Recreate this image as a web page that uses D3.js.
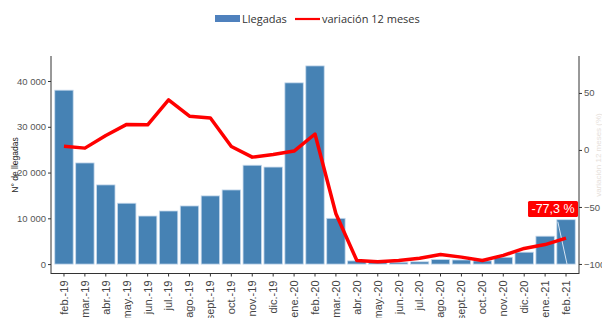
<!DOCTYPE html>
<html>
<head>
<meta charset="utf-8">
<script src="https://cdn.jsdelivr.net/npm/d3@7"></script>
<style>
  body { margin: 0; background: #fff; }
  text { font-family: "Liberation Sans", Arial, sans-serif; }
</style>
</head>
<body>
<div id="container"></div>
<script>
const months = ["feb.-19","mar.-19","abr.-19","may.-19","jun.-19","jul.-19","ago.-19","sept.-19","oct.-19","nov.-19","dic.-19","ene.-20","feb.-20","mar.-20","abr.-20","may.-20","jun.-20","jul.-20","ago.-20","sept.-20","oct.-20","nov.-20","dic.-20","ene.-21","feb.-21"];
const llegadas = [38000,22100,17300,13300,10500,11600,12700,14900,16200,21600,21200,39600,43300,10000,700,400,400,500,1000,900,700,1500,2600,6100,9700];
const variacion = [3.3,1.6,12.7,22.4,22,44,29.6,28,3,-6.3,-4,-1,14,-56,-97,-98,-97,-95,-91.7,-94,-97,-92.5,-86.4,-83,-77.3];
const leftTicks = [0,10000,20000,30000,40000];
const rightTicks = [-100,-50,0,50];

const W = 602, H = 318;
const svg = d3.select("#container").append("svg")
  .attr("width", W).attr("height", H);

const pLeft = 51, pRight = 579, pTop = 56, pBottom = 274;

const x = d3.scaleBand().domain(months).range([pLeft, pRight])
  .paddingInner(0.12).paddingOuter(0.18);
const y = d3.scaleLinear().domain([-2165, 45465]).range([pBottom, pTop]);
const y2 = d3.scaleLinear().domain([-108.8, 82.4]).range([pBottom, pTop]);

// bars
svg.append("g").selectAll("rect")
  .data(months)
  .join("rect")
  .attr("x", d => x(d))
  .attr("width", x.bandwidth())
  .attr("y", (d, i) => y(llegadas[i]))
  .attr("height", (d, i) => y(0) - y(llegadas[i]))
  .attr("fill", "#4682b4")
  .attr("stroke", "#c6d9ec")
  .attr("stroke-width", 0.8);

// leader segment in last bar
const last = months.length - 1;
svg.append("line")
  .attr("x1", x(months[last]) + 1).attr("y1", y(llegadas[last]) + 2)
  .attr("x2", x(months[last]) + x.bandwidth() / 2 + 1).attr("y2", y(0))
  .attr("stroke", "#d6e4f2").attr("stroke-width", 1);

// line
const line = d3.line()
  .x((d, i) => x(months[i]) + x.bandwidth() / 2)
  .y(d => y2(d));
svg.append("path")
  .datum(variacion)
  .attr("d", line)
  .attr("fill", "none")
  .attr("stroke", "#ff0000")
  .attr("stroke-width", 3.5)
  .attr("stroke-linejoin", "round");

// axes
const fmt = d => d3.format(",")(d).replace(/,/g, " ");
const gL = svg.append("g").attr("transform", `translate(${pLeft},0)`)
  .call(d3.axisLeft(y).tickValues(leftTicks).tickFormat(fmt).tickSize(3).tickPadding(2));
const gR = svg.append("g").attr("transform", `translate(${pRight},0)`)
  .call(d3.axisRight(y2).tickValues(rightTicks).tickSize(3).tickPadding(2));
const gB = svg.append("g").attr("transform", `translate(0,${pBottom - 0.5})`)
  .call(d3.axisBottom(x).tickSize(3).tickPadding(3));

[gL, gR].forEach(g => {
  g.select(".domain").attr("d", `M0,${pTop}V${pBottom}`).attr("stroke", "#333");
  g.selectAll(".tick line").attr("stroke", "#333");
  g.selectAll(".tick text").attr("fill", "#555").style("font-size", "9.5px");
});
gB.select(".domain").attr("d", `M${pLeft},0H${pRight}`).attr("stroke", "#333");
gB.selectAll(".tick line").attr("stroke", "#333");
gB.selectAll(".tick text")
  .attr("fill", "#444")
  .style("font-size", "11px")
  .attr("text-anchor", "end")
  .attr("transform", "rotate(-90)")
  .attr("x", -7).attr("y", 0).attr("dy", "0.35em");

// axis titles
svg.append("text")
  .attr("transform", `translate(18,${(pTop + pBottom) / 2}) rotate(-90)`)
  .attr("text-anchor", "middle")
  .style("font-size", "8.5px")
  .attr("fill", "#222")
  .text("N° de llegadas");
svg.append("text")
  .attr("transform", `translate(601,${(pTop + pBottom) / 2 - 10}) rotate(-90)`)
  .attr("text-anchor", "middle")
  .style("font-size", "8px")
  .attr("fill", "#e6e0da")
  .text("variación 12 meses (%)");

// value label
const lx = x(months[last]) + x.bandwidth() / 2 - 13;
const ly = y2(-50) + 2;
const lab = svg.append("g").attr("transform", `translate(${lx},${ly})`);
lab.append("rect")
  .attr("x", -25).attr("y", -8).attr("width", 50).attr("height", 16)
  .attr("rx", 1.5).attr("fill", "#ff0000");
lab.append("text")
  .attr("text-anchor", "middle").attr("dy", "0.36em")
  .style("font-size", "12.5px").attr("fill", "#fff")
  .text("-77,3 %");

// legend
const leg = svg.append("g");
leg.append("rect").attr("x", 215).attr("y", 15).attr("width", 25).attr("height", 7).attr("fill", "#4f81bd");
leg.append("text").attr("x", 242).attr("y", 22.5).style("font-size", "11px").attr("fill", "#333")
  .style("font-family", "'Open Sans', sans-serif").text("Llegadas");
leg.append("line").attr("x1", 295).attr("x2", 320).attr("y1", 19).attr("y2", 19)
  .attr("stroke", "#ff0000").attr("stroke-width", 2.2);
leg.append("text").attr("x", 322).attr("y", 22.5).style("font-size", "11px").attr("fill", "#333")
  .style("font-family", "'Open Sans', sans-serif").text("variación 12 meses");
</script>
</body>
</html>
